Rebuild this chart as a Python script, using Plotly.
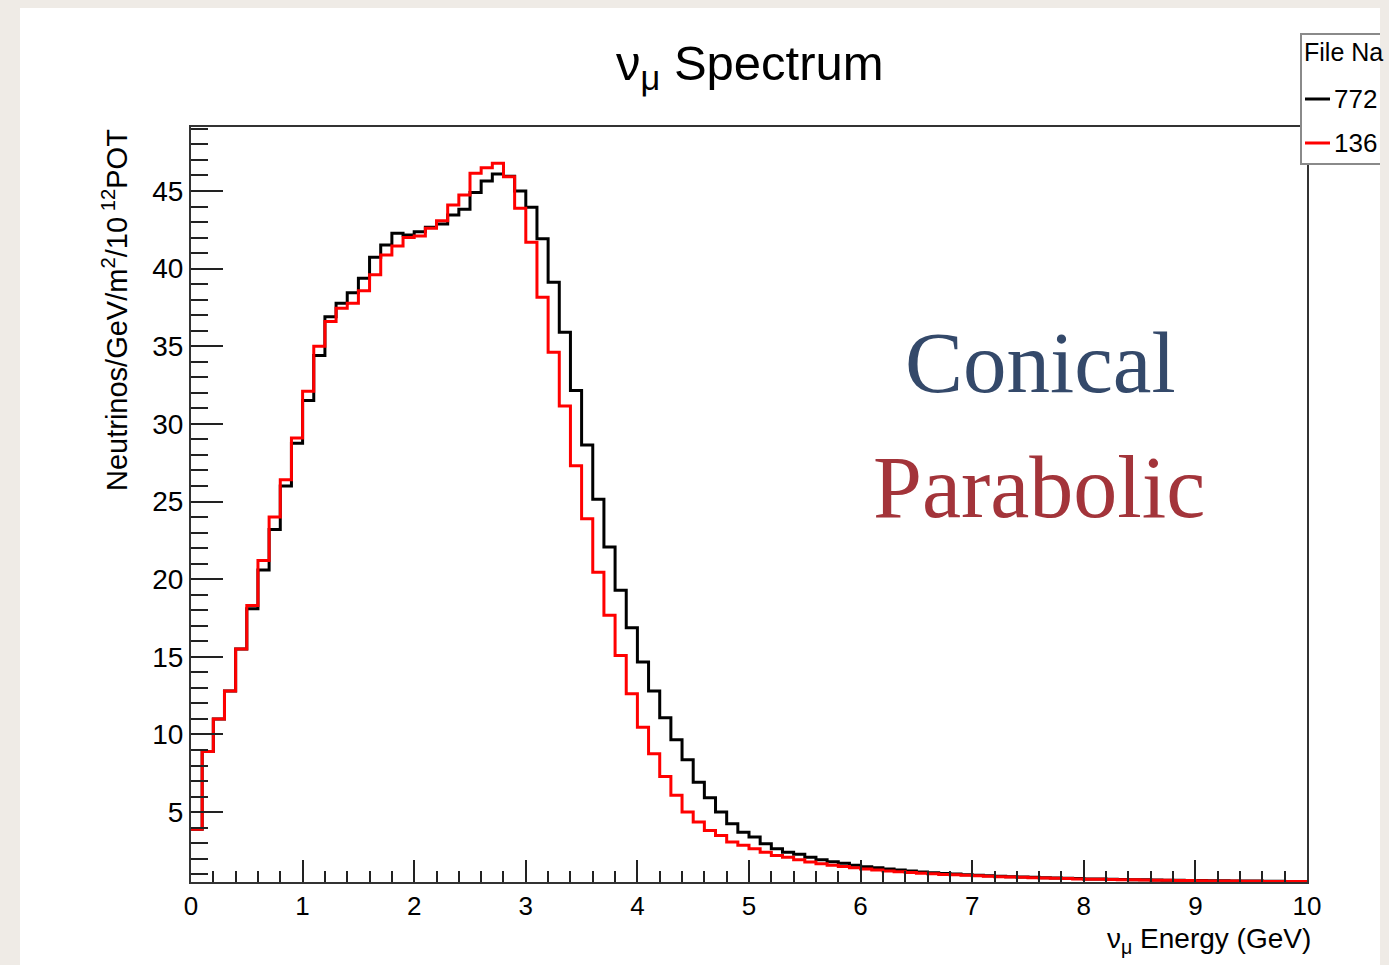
import numpy as np
import plotly.graph_objects as go

# ---- data ----
bin_low_edges = np.round(np.arange(100) * 0.1, 1)  # 0.1 GeV bins, 0..10 GeV

conical_black = [
    3.9, 8.9, 11.0, 12.8, 15.5, 18.1, 20.6, 23.2, 26.0, 28.75,
    31.5, 34.4, 36.9, 37.77, 38.45, 39.38, 40.73, 41.52, 42.27, 42.17,
    42.38, 42.66, 42.87, 43.45, 43.82, 44.9, 45.64, 46.1, 45.95, 45.0,
    43.95, 41.92, 39.13, 35.9, 32.15, 28.64, 25.15, 22.08, 19.28, 16.87,
    14.66, 12.8, 11.08, 9.66, 8.37, 6.93, 5.93, 5.0, 4.25, 3.71,
    3.39, 2.97, 2.64, 2.42, 2.28, 2.1, 1.93, 1.8, 1.7, 1.58,
    1.49, 1.41, 1.34, 1.27, 1.21, 1.15, 1.10, 1.05, 1.01, 0.97,
    0.93, 0.90, 0.87, 0.84, 0.82, 0.80, 0.78, 0.76, 0.74, 0.72,
    0.70, 0.69, 0.67, 0.66, 0.65, 0.64, 0.63, 0.62, 0.61, 0.60,
    0.59, 0.58, 0.58, 0.57, 0.56, 0.56, 0.55, 0.55, 0.54, 0.54,
]

parabolic_red = [
    3.9, 8.9, 11.0, 12.8, 15.5, 18.3, 21.2, 24.0, 26.4, 29.1,
    32.1, 35.0, 36.6, 37.45, 37.77, 38.58, 39.6, 40.88, 41.46, 42.0,
    42.1, 42.6, 43.09, 44.1, 44.74, 46.14, 46.5, 46.78, 45.92, 43.88,
    41.7, 38.15, 34.62, 31.16, 27.3, 23.9, 20.45, 17.67, 15.09, 12.62,
    10.47, 8.76, 7.3, 6.08, 5.0, 4.36, 3.82, 3.5, 3.07, 2.86,
    2.64, 2.42, 2.21, 2.1, 1.93, 1.78, 1.68, 1.58, 1.5, 1.42,
    1.34, 1.27, 1.21, 1.16, 1.11, 1.07, 1.03, 0.99, 0.96, 0.93,
    0.90, 0.87, 0.84, 0.82, 0.80, 0.78, 0.76, 0.74, 0.72, 0.70,
    0.68, 0.67, 0.66, 0.65, 0.64, 0.63, 0.62, 0.61, 0.60, 0.59,
    0.58, 0.57, 0.57, 0.56, 0.55, 0.55, 0.54, 0.54, 0.53, 0.53,
]

x_tick_vals = list(range(0, 11))
y_tick_vals = [5, 10, 15, 20, 25, 30, 35, 40, 45]

# ---- layout geometry (pixels) ----
W, H = 1389, 965
L, R, T, B = 191, 82, 127, 83
PW = W - L - R
PH = H - T - B


def xp(px):
    return (px - L) / PW


def yp(py):
    return (H - B - py) / PH


def step_xy(vals):
    xs = list(bin_low_edges) + [10.0]
    ys = list(vals) + [vals[-1]]
    return xs, ys


fig = go.Figure()
bx, by = step_xy(conical_black)
rx, ry = step_xy(parabolic_red)
fig.add_trace(go.Scatter(x=bx, y=by, mode="lines", line=dict(color="black", width=3, shape="hv"),
                         name="772", showlegend=False))
fig.add_trace(go.Scatter(x=rx, y=ry, mode="lines", line=dict(color="#ff0000", width=3, shape="hv"),
                         name="136", showlegend=False))

sans = "Liberation Sans, Arial, sans-serif"

fig.update_xaxes(
    range=[0, 10], tickmode="array", tickvals=x_tick_vals, ticktext=[str(v) for v in x_tick_vals],
    ticks="inside", ticklen=22, tickwidth=1.5, tickcolor="#222",
    minor=dict(dtick=0.2, tick0=0, ticks="inside", ticklen=11, tickwidth=1.5, tickcolor="#222", showgrid=False),
    showline=True, linecolor="#333", linewidth=2, mirror=True,
    showgrid=False, zeroline=False, tickfont=dict(family=sans, size=26, color="black"),
)
fig.update_yaxes(
    range=[0.5, 49.12], tickmode="array", tickvals=y_tick_vals, ticktext=[str(v) for v in y_tick_vals],
    ticks="inside", ticklen=32, tickwidth=1.5, tickcolor="#222",
    minor=dict(dtick=1, tick0=0, ticks="inside", ticklen=17, tickwidth=1.5, tickcolor="#222", showgrid=False),
    showline=True, linecolor="#333", linewidth=2, mirror=True,
    showgrid=False, zeroline=False, tickfont=dict(family=sans, size=28, color="black"),
)

shapes = [
    # white slide panel
    dict(type="rect", xref="paper", yref="paper", x0=xp(20), x1=xp(1380), y0=yp(965), y1=yp(8),
         fillcolor="white", line=dict(width=0), layer="below"),
    # legend box
    dict(type="rect", xref="paper", yref="paper", x0=xp(1301), x1=xp(1400), y0=yp(164), y1=yp(34),
         fillcolor="white", line=dict(color="#8a8a8a", width=2), layer="above"),
    # legend line samples
    dict(type="line", xref="paper", yref="paper", x0=xp(1305), x1=xp(1330), y0=yp(99), y1=yp(99),
         line=dict(color="black", width=3), layer="above"),
    dict(type="line", xref="paper", yref="paper", x0=xp(1305), x1=xp(1330), y0=yp(143), y1=yp(143),
         line=dict(color="#ff0000", width=3), layer="above"),
    # beige edge clipping the legend
    dict(type="rect", xref="paper", yref="paper", x0=xp(1380), x1=xp(1400), y0=yp(965), y1=yp(0),
         fillcolor="#efebe6", line=dict(width=0), layer="above"),
]

annotations = [
    dict(text="ν<sub>μ</sub> Spectrum", x=xp(750), y=yp(66), xref="paper", yref="paper",
         xanchor="center", yanchor="middle", showarrow=False,
         font=dict(family=sans, size=49, color="black")),
    dict(text="Neutrinos/GeV/m<sup>2</sup>/10<sup> 12</sup>POT", x=xp(115), y=yp(310),
         xref="paper", yref="paper", xanchor="center", yanchor="middle", textangle=-90,
         showarrow=False, font=dict(family=sans, size=29, color="black")),
    dict(text="ν<sub>μ</sub> Energy (GeV)", x=xp(1313), y=yp(941), xref="paper", yref="paper",
         xanchor="right", yanchor="middle", showarrow=False,
         font=dict(family=sans, size=28, color="black")),
    dict(text="Conical", x=xp(1040), y=yp(362), xref="paper", yref="paper",
         xanchor="center", yanchor="middle", showarrow=False,
         font=dict(family="Liberation Serif, Times New Roman, serif", size=87, color="#34496a")),
    dict(text="Parabolic", x=xp(1039), y=yp(487), xref="paper", yref="paper",
         xanchor="center", yanchor="middle", showarrow=False,
         font=dict(family="Liberation Serif, Times New Roman, serif", size=88, color="#a3343a")),
    dict(text="File Na", x=xp(1302), y=yp(52), xref="paper", yref="paper",
         xanchor="left", yanchor="middle", showarrow=False,
         font=dict(family=sans, size=25, color="black")),
    dict(text="772", x=xp(1332), y=yp(99), xref="paper", yref="paper",
         xanchor="left", yanchor="middle", showarrow=False,
         font=dict(family=sans, size=26, color="black")),
    dict(text="136", x=xp(1332), y=yp(143), xref="paper", yref="paper",
         xanchor="left", yanchor="middle", showarrow=False,
         font=dict(family=sans, size=26, color="black")),
]

fig.update_layout(
    width=W, height=H, autosize=False,
    margin=dict(l=L, r=R, t=T, b=B, pad=0),
    paper_bgcolor="#efebe6", plot_bgcolor="white",
    shapes=shapes, annotations=annotations, showlegend=False,
)

fig.write_html("out.html")
